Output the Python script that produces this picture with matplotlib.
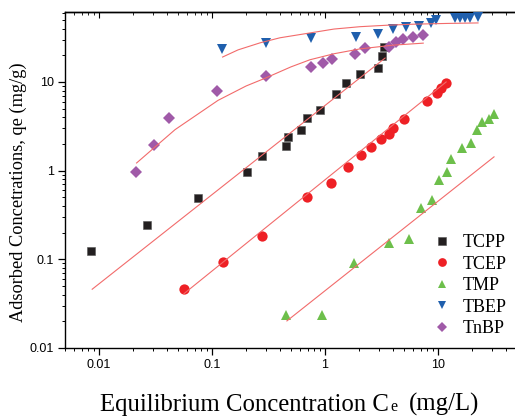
import matplotlib as mpl
mpl.use('Agg')
import matplotlib.pyplot as plt
from matplotlib.ticker import LogLocator, NullFormatter, FixedLocator, FixedFormatter

# DATI
tcpp_x = [0.0085, 0.0266, 0.075, 0.204, 0.277, 0.452, 0.471, 0.614, 0.69, 0.90, 1.25, 1.53, 2.04, 2.94, 3.19, 3.33]
tcpp_y = [0.124, 0.244, 0.49, 0.97, 1.46, 1.90, 2.40, 2.88, 3.93, 4.83, 7.3, 9.7, 12.3, 14.4, 19.6, 24.8]

tcep_x = [0.0565, 0.125, 0.277, 0.69, 1.13, 1.6, 2.08, 2.55, 3.13, 3.68, 4.0, 5.0, 8.0, 9.8, 10.6, 11.8]
tcep_y = [0.046, 0.093, 0.183, 0.505, 0.726, 1.10, 1.50, 1.85, 2.27, 2.6, 3.03, 3.83, 6.1, 7.5, 8.55, 9.75]

tmp_x = [0.452, 0.94, 1.81, 3.68, 5.5, 7.1, 8.9, 10.2, 12.0, 13.0, 16.3, 19.6, 22.1, 24.5, 28.2, 31.3]
tmp_y = [0.0235, 0.0235, 0.091, 0.153, 0.17, 0.38, 0.47, 0.785, 0.97, 1.36, 1.80, 2.05, 2.88, 3.54, 3.83, 4.35]

tbep_x = [0.122, 0.30, 0.75, 1.88, 2.94, 4.0, 5.2, 6.8, 8.7, 9.5, 14.1, 15.7, 17.3, 19.2, 22.6]
tbep_y = [23.5, 27.6, 31.3, 32.1, 34.8, 39.6, 41.7, 42.6, 46.3, 50.5, 53.0, 52.5, 53.0, 52.5, 54.0]

tnbp_x = [0.0212, 0.0307, 0.0416, 0.111, 0.30, 0.75, 0.96, 1.15, 1.84, 2.26, 3.68, 4.25, 4.9, 6.0, 7.4]
tnbp_y = [0.966, 1.95, 3.93, 7.9, 11.7, 14.8, 16.4, 18.2, 20.7, 24.2, 24.8, 28.2, 30.5, 32.1, 33.9]

# curve di fit (punti letti lungo le curve)
tcpp_fit_x = [0.0087, 3.4]
tcpp_fit_y = [0.046, 18.6]
tcep_fit_x = [0.0565, 11.8]
tcep_fit_y = [0.041, 10.0]
tmp_fit_x = [0.46, 31.3]
tmp_fit_y = [0.0202, 1.43]
tbep_fit_x = [0.124, 0.17, 0.266, 0.40, 0.736, 1.2, 2.04, 3.5, 6.0, 12.0, 22.6]
tbep_fit_y = [19.1, 23.0, 27.6, 31.5, 35.7, 39.5, 42.0, 43.6, 44.8, 45.7, 46.3]
tnbp_fit_x = [0.0215, 0.0471, 0.113, 0.20, 0.294, 0.50, 0.736, 1.2, 2.04, 4.0, 7.4]
tnbp_fit_y = [1.22, 2.9, 6.2, 9.0, 11.0, 14.8, 17.8, 20.8, 23.6, 26.0, 27.4]

W, H = 515, 418
fig = plt.figure(figsize=(W / 100, H / 100), dpi=100)
ax = fig.add_axes([65 / W, 1 - 348 / H, (515 - 65) / W, (348 - 12) / H])

fit_color = '#f26b6b'
ax.plot(tcpp_x, tcpp_y, 's', color='#231f20', ms=6.0, mec='#555555', mew=0.4, label='TCPP', zorder=3)
ax.plot(tcep_x, tcep_y, 'o', color='#ee2025', ms=7.4, mew=0, label='TCEP', zorder=3)
ax.plot(tmp_x, tmp_y, '^', color='#6dbf4b', ms=7.5, mew=0, label='TMP', zorder=3)
ax.plot(tbep_x, tbep_y, 'v', color='#1f5fad', ms=7.5, mew=0, label='TBEP', zorder=3)
ax.plot(tnbp_x, tnbp_y, 'D', color='#a05aa8', ms=6.3, mew=0, label='TnBP', zorder=3)

for fx, fy in [(tcpp_fit_x, tcpp_fit_y), (tcep_fit_x, tcep_fit_y), (tmp_fit_x, tmp_fit_y),
               (tbep_fit_x, tbep_fit_y), (tnbp_fit_x, tnbp_fit_y)]:
    ax.plot(fx, fy, '-', color=fit_color, lw=0.8, zorder=4)

ax.set_xscale('log')
ax.set_yscale('log')
ax.set_xlim(0.005, 48)
ax.set_ylim(0.01, 61.5)

ax.spines['right'].set_visible(False)
for s in ['left', 'bottom', 'top']:
    ax.spines[s].set_linewidth(1.0)

ax.xaxis.set_major_locator(FixedLocator([0.01, 0.1, 1, 10]))
ax.xaxis.set_major_formatter(FixedFormatter(['0.01', '0.1', '1', '10']))
ax.xaxis.set_minor_locator(LogLocator(base=10, subs=range(2, 10)))
ax.xaxis.set_minor_formatter(NullFormatter())
ax.yaxis.set_major_locator(FixedLocator([0.01, 0.1, 1, 10]))
ax.yaxis.set_major_formatter(FixedFormatter(['0.01', '0.1', '1', '10']))
ax.yaxis.set_minor_locator(LogLocator(base=10, subs=range(2, 10)))
ax.yaxis.set_minor_formatter(NullFormatter())

tick_font = 'Liberation Sans'
ax.tick_params(axis='both', which='major', direction='out', length=5, width=0.9,
               labelsize=9, pad=3, top=False, right=False)
ax.tick_params(axis='both', which='minor', direction='out', length=2.5, width=0.7, top=False, right=False)
for lab in ax.get_xticklabels() + ax.get_yticklabels():
    lab.set_fontfamily(tick_font)

# tacche sul bordo superiore (verso l'interno)
axt = ax.secondary_xaxis('top')
axt.xaxis.set_major_locator(FixedLocator([0.01, 0.1, 1, 10]))
axt.xaxis.set_minor_locator(LogLocator(base=10, subs=range(2, 10)))
axt.tick_params(which='major', direction='in', length=4, width=0.8, labeltop=False)
axt.tick_params(which='minor', direction='in', length=2, width=0.6, labeltop=False)
axt.spines['top'].set_linewidth(1.0)

leg = ax.legend(loc='upper left', bbox_to_anchor=(433 / W, 1 - 234 / H), bbox_transform=fig.transFigure,
                frameon=False, prop={'family': 'Liberation Serif', 'size': 13},
                handlelength=1.0, handletextpad=0.65, labelspacing=0.25,
                borderpad=0, borderaxespad=0, markerscale=0.85)

serif = 'Liberation Serif'
fig.text(18 / W, 1 - 192 / H, 'Adsorbed Concetrations, qe (mg/g)', rotation=90,
         ha='center', va='center', family=serif, fontsize=13.2)
base = 1 - 411 / H
fig.text(100 / W, base, 'Equilibrium Concentration C', ha='left', va='baseline',
         family=serif, fontsize=17.8)
fig.text(390 / W, base, 'e', ha='left', va='baseline', family=serif, fontsize=11.4)
fig.text(409 / W, base, '(mg/L)', ha='left', va='baseline', family=serif, fontsize=17.8)

fig.savefig('out.png', dpi=100)
